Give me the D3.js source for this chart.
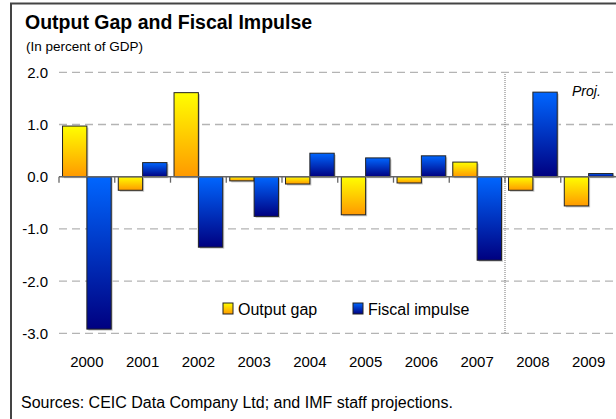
<!DOCTYPE html>
<html><head><meta charset="utf-8">
<script src="https://cdn.jsdelivr.net/npm/d3@7"></script>
<style>body{margin:0;background:#fff;}svg{display:block;font-family:"Liberation Sans",Arial,sans-serif;}</style>
</head><body><svg id="c" width="616" height="419"></svg>
<script>
const years = ["2000","2001","2002","2003","2004","2005","2006","2007","2008","2009"];
const outputGap = [0.97,-0.26,1.61,-0.08,-0.14,-0.73,-0.12,0.28,-0.26,-0.56];
const fiscalImpulse = [-2.92,0.27,-1.35,-0.76,0.45,0.36,0.40,-1.60,1.62,0.06];
const yTicks = [2,1,0,-1,-2,-3];
const seriesNames = ["Output gap","Fiscal impulse"];

const svg = d3.select("#c");
const defs = svg.append("defs");
function grad(id, c1, c2){
  const g = defs.append("linearGradient").attr("id",id).attr("x1",0).attr("y1",0).attr("x2",0).attr("y2",1);
  g.append("stop").attr("offset","0%").attr("stop-color",c1);
  g.append("stop").attr("offset","100%").attr("stop-color",c2);
}
grad("gY","#ffff00","#ff9900");
grad("gB","#0066ff","#000080");

// frame
svg.append("path").attr("d","M11,419 V3.5 H616").attr("fill","none").attr("stroke","#444").attr("stroke-width",2);

svg.append("text").attr("x",25).attr("y",28.5).attr("font-size",19.5).attr("font-weight","bold").text("Output Gap and Fiscal Impulse");
svg.append("text").attr("x",26).attr("y",50.5).attr("font-size",13.5).text("(In percent of GDP)");

const x = d3.scaleBand().domain(years).range([59,616.5]);
const y = d3.scaleLinear().domain([-3,2]).range([333.3,72.3]);
const sub = d3.scaleBand().domain(seriesNames).range([0,x.bandwidth()]).paddingInner(0).paddingOuter(0.145);

// gridlines
svg.append("g").selectAll("line").data(yTicks.filter(d=>d!==0)).join("line")
  .attr("x1",59).attr("x2",616).attr("y1",d=>y(d)).attr("y2",d=>y(d))
  .attr("stroke","#b4b4b4").attr("stroke-width",1.3).attr("stroke-dasharray","8,5");

// y labels
svg.append("g").selectAll("text").data(yTicks).join("text")
  .attr("x",48).attr("y",d=>y(d)+5.5).attr("text-anchor","end").attr("font-size",15)
  .text(d=>d3.format(".1f")(d).replace("\u2212","-"));

// projection divider
svg.append("line").attr("x1",x("2008")).attr("x2",x("2008")).attr("y1",74).attr("y2",333)
  .attr("stroke","#777").attr("stroke-width",1).attr("stroke-dasharray","1,1");
svg.append("text").attr("x",572).attr("y",96).attr("font-size",14).attr("font-style","italic").text("Proj.");

// bars
const data = years.map((yr,i)=>({yr, vals:[{s:seriesNames[0],v:outputGap[i],f:"url(#gY)"},{s:seriesNames[1],v:fiscalImpulse[i],f:"url(#gB)"}]}));
const grp = svg.append("g").selectAll("g").data(data).join("g").attr("transform",d=>`translate(${x(d.yr)},0)`);
grp.selectAll("rect.sh").data(d=>d.vals).join("rect").attr("class","sh")
  .attr("x",d=>sub(d.s)+1.5).attr("width",sub.bandwidth())
  .attr("y",d=>Math.min(y(d.v),y(0))+1.5).attr("height",d=>Math.abs(y(d.v)-y(0)))
  .attr("fill","#c8c8c8");
grp.selectAll("rect.b").data(d=>d.vals).join("rect").attr("class","b")
  .attr("x",d=>sub(d.s)).attr("width",sub.bandwidth())
  .attr("y",d=>Math.min(y(d.v),y(0))).attr("height",d=>Math.abs(y(d.v)-y(0)))
  .attr("fill",d=>d.f).attr("stroke","#222").attr("stroke-width",1);

// zero axis
svg.append("line").attr("x1",59).attr("x2",616).attr("y1",y(0)).attr("y2",y(0)).attr("stroke","#666").attr("stroke-width",1.5);
const bounds = years.map(d=>x(d));
svg.append("g").selectAll("line").data(bounds).join("line")
  .attr("x1",d=>d).attr("x2",d=>d).attr("y1",y(0)).attr("y2",y(0)+6).attr("stroke","#666").attr("stroke-width",1.3);

// x labels
svg.append("g").selectAll("text").data(years).join("text")
  .attr("x",d=>x(d)+x.bandwidth()/2).attr("y",366.5).attr("text-anchor","middle").attr("font-size",15).text(d=>d);

// legend
const leg = [{n:seriesNames[0],f:"url(#gY)",x:223},{n:seriesNames[1],f:"url(#gB)",x:353}];
const lg = svg.append("g").selectAll("g").data(leg).join("g").attr("transform",d=>`translate(${d.x},303)`);
lg.append("rect").attr("width",10).attr("height",11).attr("fill",d=>d.f).attr("stroke","#222").attr("stroke-width",1);
lg.append("text").attr("x",15).attr("y",12).attr("font-size",16).text(d=>d.n);

svg.append("text").attr("x",21).attr("y",408).attr("font-size",16).text("Sources: CEIC Data Company Ltd; and IMF staff projections.");
</script></body></html>
